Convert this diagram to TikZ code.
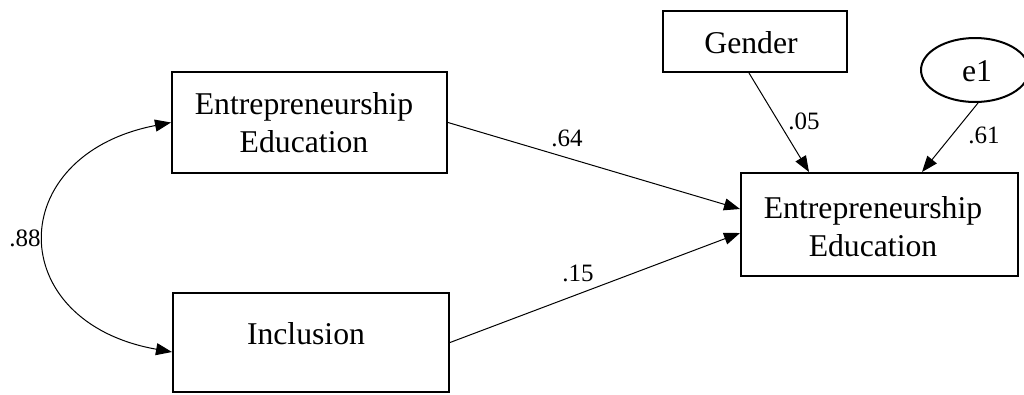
\documentclass[tikz,border=0pt]{standalone}
\usepackage{fontspec}
\setmainfont{Liberation Serif}
\usetikzlibrary{arrows.meta,shapes.geometric}

\begin{document}
\begin{tikzpicture}[x=1pt,y=-1pt,
  varbox/.style={draw, line width=2pt, rectangle, inner sep=0pt},
  errnode/.style={draw, line width=2pt, ellipse, inner sep=0pt,
    minimum width=108pt, minimum height=64pt},
  boxtext/.style={font=\fontsize{31.7}{37.7}\selectfont, align=center, inner sep=0pt},
  coef/.style={font=\fontsize{25}{30}\selectfont, inner sep=0pt},
  regpath/.style={line width=1pt, -{Triangle[length=16pt,width=12pt]}},
  covpath/.style={line width=1pt,
    {Triangle[length=16pt,width=12pt]}-{Triangle[length=16pt,width=12pt]}}
]
\useasboundingbox (0,0) rectangle (1024,394);

% observed variables
\node[varbox, minimum width=275pt, minimum height=101pt] (ee1) at (309.5,122.5) {};
\node[varbox, minimum width=276pt, minimum height=99pt] (incl) at (311,342.5) {};
\node[varbox, minimum width=277pt, minimum height=103pt] (ee2) at (879.5,224.5) {};
\node[varbox, minimum width=184pt, minimum height=61pt] (gender) at (755,41.5) {};

% error term
\node[errnode] (e1) at (975,70) {};

% variable names
\node[boxtext] (ee1t) at ([xshift=-5.5pt]ee1.center) {Entrepreneurship\\Education};
\node[boxtext] (inclt) at ([xshift=-5pt,yshift=9pt]incl.center) {Inclusion};
\node[boxtext] (ee2t) at ([xshift=-6.5pt,yshift=-2pt]ee2.center) {Entrepreneurship\\Education};
\node[boxtext] (gendert) at ([xshift=-4pt,yshift=-1pt]gender.center) {Gender};
\node[boxtext] (e1t) at ([xshift=2pt,yshift=-1pt]e1.center) {e1};

% regression paths
\draw[regpath] (ee1.east) -- ([yshift=15.5pt]ee2.west);
\draw[regpath] (incl.east) -- ([yshift=-8.5pt]ee2.west);
\draw[regpath] ([xshift=-6pt]gender.south) -- ([xshift=-70.5pt]ee2.north);
\draw[regpath] ([xshift=3pt]e1.south) -- ([xshift=42.5pt]ee2.north);

% covariance
\draw[covpath] (ee1.west) .. controls (3,155) and (3,322) .. ([yshift=-9.5pt]incl.west);

% coefficients
\node[coef] (c64) at (567,138.5) {.64};
\node[coef] (c15) at (578,273) {.15};
\node[coef] (c05) at (804,121) {.05};
\node[coef] (c61) at (984,135) {.61};
\node[coef] (c88) at (25,238) {.88};
\end{tikzpicture}
\end{document}
